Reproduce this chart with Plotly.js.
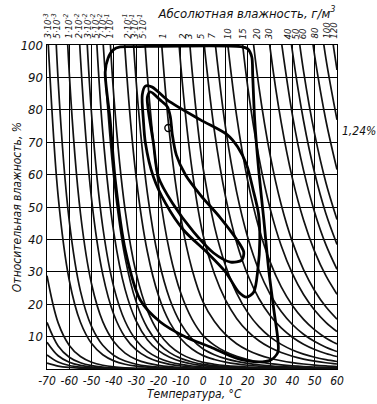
<!DOCTYPE html>
<html><head><meta charset="utf-8">
<script src="https://cdn.plot.ly/plotly-3.0.1.min.js"></script>
<style>html,body{margin:0;padding:0;background:#fff}#chart{width:377px;height:404px}</style>
</head><body><div id="chart"></div>
<script>
// Saturation absolute humidity (g/m^3) vs temperature (°C)
const satTemps = [-70,-65,-60,-55,-50,-45,-40,-35,-30,-25,-20,-15,-10,-5,0,5,10,15,20,25,30,35,40,45,50,55,60];
const satDensity = [0.00278,0.00562,0.01098,0.0208,0.03825,0.06845,0.1194,0.2035,0.3389,0.5527,0.884,1.387,2.140,3.246,4.848,6.790,9.381,12.80,17.24,22.97,30.26,39.46,50.98,65.25,82.78,104.2,130.0];
// Lines of constant absolute humidity, g/m^3
const absHumidity = [0.00005,0.00012,0.00023,0.0004,0.0008,0.003,0.005,0.01,0.02,0.03,0.05,0.07,0.1,0.2,0.3,0.5,1,2,3,5,7,10,15,20,30,40,50,60,80,100,120];
// Top labels (temperature where each labelled line meets 100 %)
const labelTemps = [-70,-66.4,-61,-56.1,-52.5,-48.9,-45.7,-42.6,-34.5,-31.3,-27.7,-18.3,-9.3,-6.6,-1.2,3.3,11,17.7,24,29.4,38,41.6,44.7,49.7,55.1,58.3];
const labelTexts = ['3·10<sup>-3</sup>','5·10<sup>-3</sup>','1·10<sup>-2</sup>','2·10<sup>-2</sup>','3·10<sup>-2</sup>','5·10<sup>-2</sup>','7·10<sup>-2</sup>','1·10<sup>-1</sup>','2·10<sup>-1</sup>','3·10<sup>-1</sup>','5·10<sup>-1</sup>','1','2','3','5','7','10','15','20','30','40','50','60','80','100','120'];
const xTicks = [-70,-60,-50,-40,-30,-20,-10,0,10,20,30,40,50,60];
const yTicks = [10,20,30,40,50,60,70,80,90,100];
// Thick envelopes (temperature °C, relative humidity %)
const outerT  = [-43.9,-42.6,-40.3,-37.2,-30.4,16.8,20.0,21.8,22.2,23.1,24.9,27.2,29.4,31.7,33.5,33.5,30.3,23.6,14.6,3.3,-7.9,-19.2,-28.2,-34.9,-39.4,-41.7,-43.9];
const outerRH = [91.7,96.0,98.5,99.4,99.5,99.5,98.8,96.3,90.7,76.9,61.4,46.0,30.6,18.2,9.0,5.2,2.8,2.2,3.4,6.8,9.9,14.5,21.3,36.7,58.3,76.9,91.7];
const middleT  = [-25.9,-27.3,-26.8,-25.9,-22.3,-16.9,-8.8,2.0,10.1,15.9,19.5,22.7,24.5,25.4,24.8,22.5,19.5,15.5,11.0,-1.2,-16.0,-22.8,-25.9];
const middleRH = [87.3,84.6,76.9,69.8,59.3,51.2,42.9,35.8,29.9,23.8,22.2,23.8,30.6,40.0,48.0,55.0,63.0,68.5,72.2,76.9,83.0,87.0,87.3];
const innerT  = [-23.7,-19.2,-16.0,-14.7,-13.8,-12.0,-7.9,-1.2,7.8,14.6,18.2,17.3,12.3,4.7,-4.3,-13.8,-20.1,-22.3,-24.6,-25.0,-23.7];
const innerRH = [85.5,83.0,80.9,77.8,72.2,66.0,59.9,53.7,46.6,40.4,36.1,33.6,33.0,35.8,42.3,51.2,59.3,69.8,79.9,83.9,85.5];
const pointT = [-15.6], pointRH = [74.4];

const traces = [];
absHumidity.forEach(function(a){
  const rh = satDensity.map(function(s){return 100*a/s;});
  const xs = [], ys = [];
  for (let i=0;i<satTemps.length;i++){
    if (rh[i] <= 100 || (i+1<satTemps.length && rh[i+1] <= 100)) { xs.push(satTemps[i]); ys.push(rh[i]); }
  }
  traces.push({x:xs,y:ys,type:'scatter',mode:'lines',line:{color:'#111',width:1.7,shape:'spline',smoothing:1},hoverinfo:'skip',showlegend:false});
});
[[outerT,outerRH],[middleT,middleRH],[innerT,innerRH]].forEach(function(e){
  traces.push({x:e[0],y:e[1],type:'scatter',mode:'lines',line:{color:'#000',width:2.8,shape:'spline',smoothing:0.8},hoverinfo:'skip',showlegend:false});
});
traces.push({x:pointT,y:pointRH,type:'scatter',mode:'markers',marker:{symbol:'circle-open',size:7,color:'#000',line:{width:1.4}},showlegend:false});

const F = 'DejaVu Sans Condensed, Liberation Sans, sans-serif';
const ann = [];
labelTemps.forEach(function(t,i){
  ann.push({text:labelTexts[i],x:t,xref:'x',y:1,yref:'paper',yshift:4,xanchor:'center',yanchor:'bottom',textangle:-90,showarrow:false,font:{family:F,size:9.5,color:'#111',style:'italic'}});
});
ann.push({text:'1,24%',xref:'paper',yref:'paper',x:1.01,y:0.735,xanchor:'left',yanchor:'middle',showarrow:false,font:{family:F,size:12,color:'#111',style:'italic'}});
ann.push({text:'Относительная влажность, %',xref:'paper',yref:'paper',x:-0.103,y:0.5,xanchor:'center',yanchor:'middle',textangle:-90,showarrow:false,font:{family:F,size:12,color:'#111',style:'italic'}});
ann.push({text:'Температура, °C',xref:'paper',yref:'paper',x:0.51,y:-0.078,xanchor:'center',yanchor:'middle',showarrow:false,font:{family:F,size:12,color:'#111',style:'italic'}});

const layout = {
  width:377,height:404,margin:{l:47,r:40,t:45,b:35},
  paper_bgcolor:'#fff',plot_bgcolor:'#fff',showlegend:false,
  title:{text:'Абсолютная влажность, г/м<sup>3</sup>',font:{family:F,size:13,color:'#111',style:'italic'},x:0.655,xanchor:'center',y:0.967,yanchor:'middle'},
  xaxis:{range:[-70,60],tickmode:'array',tickvals:xTicks,ticktext:xTicks.map(String),showgrid:true,gridcolor:'#000',gridwidth:1,zeroline:false,showline:true,mirror:true,linecolor:'#000',linewidth:1.4,ticks:'',ticklabelstandoff:0,tickfont:{family:F,size:12,color:'#111',style:'italic'}},
  yaxis:{range:[0,100],tickmode:'array',tickvals:yTicks,ticktext:yTicks.map(String),showgrid:true,gridcolor:'#000',gridwidth:1,zeroline:false,showline:true,mirror:true,linecolor:'#000',linewidth:1.4,ticks:'',tickfont:{family:F,size:13,color:'#111',style:'italic'}},
  annotations:ann
};
Plotly.newPlot('chart',traces,layout,{displayModeBar:false,staticPlot:true});
</script></body></html>
